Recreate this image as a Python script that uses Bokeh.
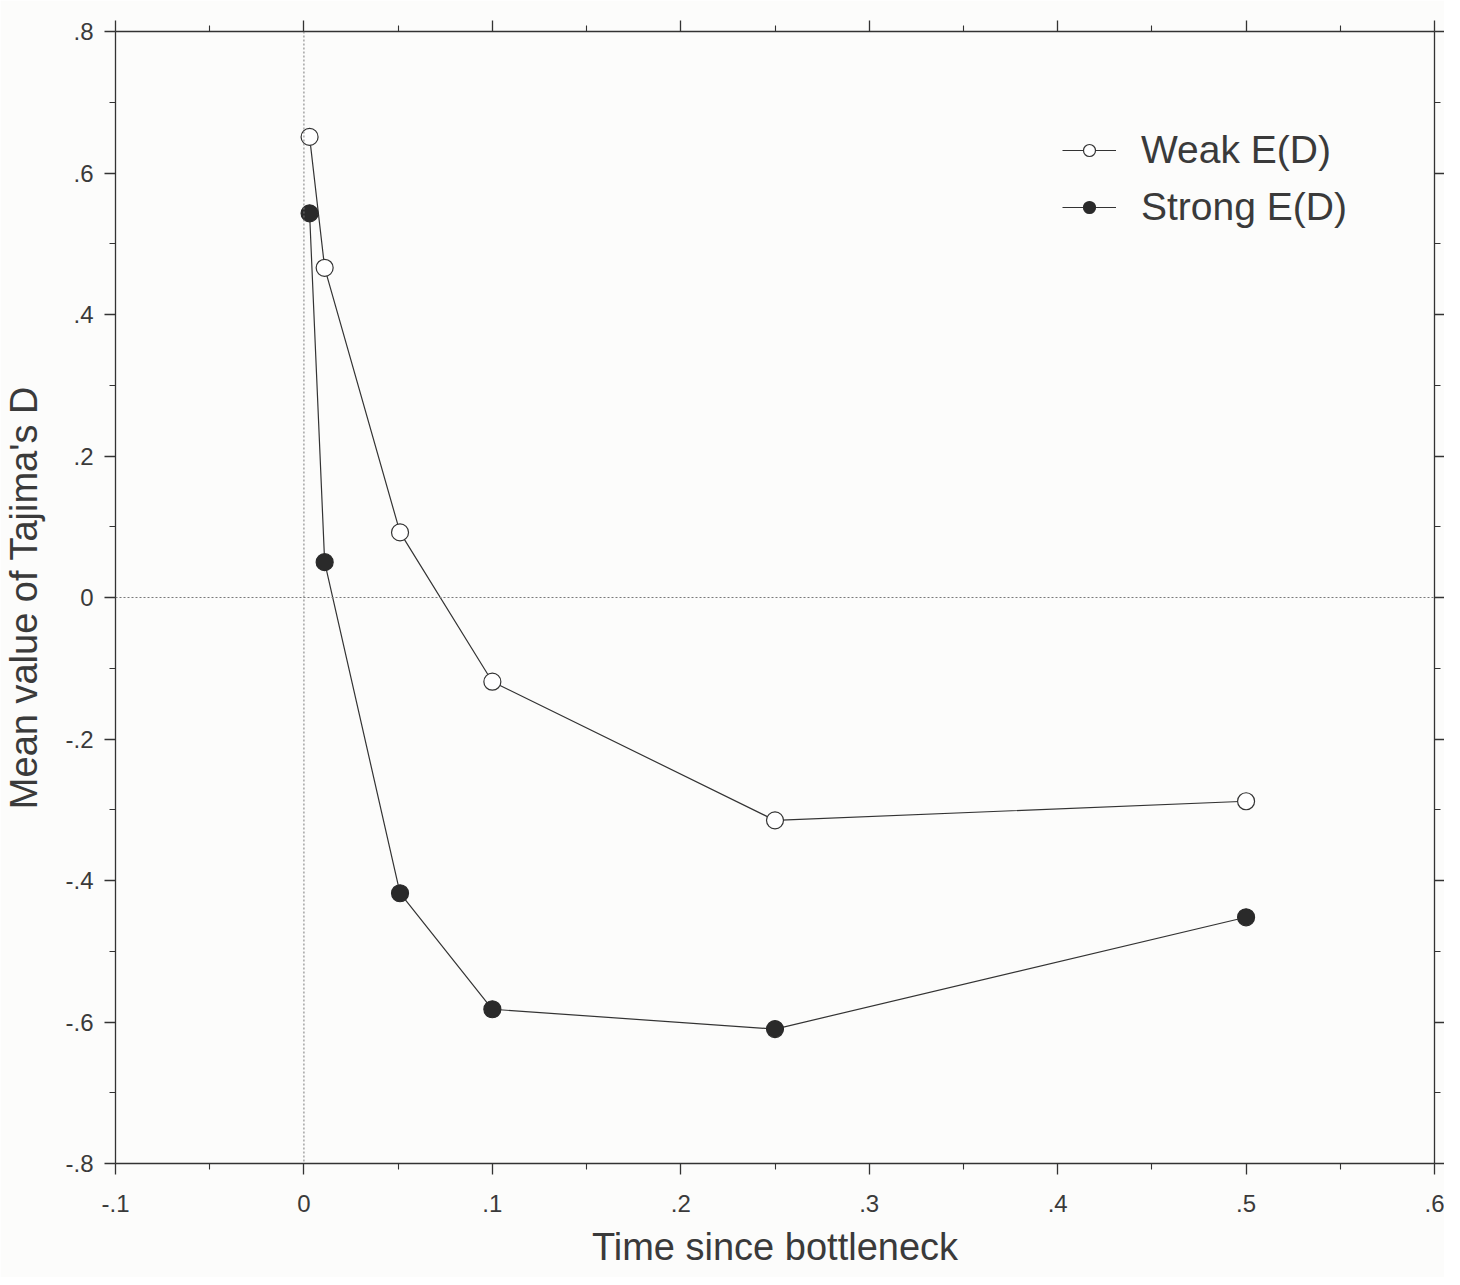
from bokeh.plotting import figure
from bokeh.models import (Range1d, LinearAxis, FixedTicker, CustomJSTickFormatter,
                          Span, Legend, LegendItem)
from bokeh.embed import file_html
from bokeh.resources import INLINE

# ---- data ----
time_since = [0.003, 0.011, 0.051, 0.1, 0.25, 0.5]
weak_ed = [0.651, 0.466, 0.092, -0.119, -0.315, -0.288]
strong_ed = [0.543, 0.050, -0.418, -0.582, -0.610, -0.452]

x_ticks = [-0.1, 0.0, 0.1, 0.2, 0.3, 0.4, 0.5, 0.6]
x_tick_labels = ["-.1", "0", ".1", ".2", ".3", ".4", ".5", ".6"]
x_minor = [-0.05, 0.05, 0.15, 0.25, 0.35, 0.45, 0.55]
y_ticks = [-0.8, -0.6, -0.4, -0.2, 0.0, 0.2, 0.4, 0.6, 0.8]
y_tick_labels = ["-.8", "-.6", "-.4", "-.2", "0", ".2", ".4", ".6", ".8"]
y_minor = [-0.7, -0.5, -0.3, -0.1, 0.1, 0.3, 0.5, 0.7]

x_title = "Time since bottleneck"
y_title = "Mean value of Tajima's D"
series_names = ["Weak E(D)", "Strong E(D)"]

FONT = "Liberation Sans"
INK = "#333333"
TEXT = "#3a3a3a"
BG = "#fcfcfb"

p = figure(width=1444, height=1277,
           x_range=Range1d(-0.1, 0.6), y_range=Range1d(-0.8, 0.8),
           output_backend="svg", toolbar_location=None,
           min_border_left=114, min_border_right=10,
           min_border_top=31, min_border_bottom=114)
p.background_fill_color = BG
p.border_fill_color = BG
p.outline_line_color = None
p.grid.visible = False

code = """
for (let i = 0; i < tvals.length; i++) {
  if (Math.abs(tvals[i] - tick) < 1e-9) { return tlabels[i]; }
}
return "";
"""
xfmt = CustomJSTickFormatter(args=dict(tvals=x_ticks, tlabels=x_tick_labels), code=code)
yfmt = CustomJSTickFormatter(args=dict(tvals=y_ticks, tlabels=y_tick_labels), code=code)
blank_fmt = CustomJSTickFormatter(code='return "";')


def style_axis(ax, ticks, minor, show_labels, fmt=None, tick_len=11):
    ax.ticker = FixedTicker(ticks=ticks, minor_ticks=minor)
    ax.axis_line_color = INK
    ax.axis_line_width = 1.3
    ax.major_tick_line_color = INK
    ax.major_tick_line_width = 1.3
    ax.minor_tick_line_color = INK
    ax.minor_tick_line_width = 1.1
    ax.major_tick_in = 0
    ax.major_tick_out = tick_len
    ax.minor_tick_in = 0
    ax.minor_tick_out = 6
    if show_labels:
        ax.formatter = fmt
        ax.major_label_text_font = FONT
        ax.major_label_text_font_size = "24px"
        ax.major_label_text_color = TEXT
        ax.axis_label_text_font = FONT
        ax.axis_label_text_font_size = "38px"
        ax.axis_label_text_font_style = "normal"
        ax.axis_label_text_color = TEXT
    else:
        ax.formatter = blank_fmt
        ax.major_label_text_font_size = "1px"
        ax.major_label_standoff = 0


xa = p.xaxis[0]
style_axis(xa, x_ticks, x_minor, True, xfmt)
xa.axis_label = x_title
xa.major_label_standoff = 20
xa.axis_label_standoff = 11

ya = p.yaxis[0]
style_axis(ya, y_ticks, y_minor, True, yfmt)
ya.axis_label = y_title
ya.major_label_standoff = 11
ya.axis_label_standoff = 17
ya.major_label_orientation = "horizontal"

top_ax = LinearAxis()
style_axis(top_ax, x_ticks, x_minor, False)
p.add_layout(top_ax, "above")
right_ax = LinearAxis()
style_axis(right_ax, y_ticks, y_minor, False, tick_len=10)
p.add_layout(right_ax, "right")

# reference lines at zero
p.add_layout(Span(location=0, dimension="height", line_color="#7a7a7a",
                  line_width=1, line_dash="2 2"))
p.add_layout(Span(location=0, dimension="width", line_color="#7a7a7a",
                  line_width=1, line_dash="2 2"))

l1 = p.line(time_since, weak_ed, line_color=INK, line_width=1.2)
s1 = p.scatter(time_since, weak_ed, size=17, marker="circle",
               fill_color="white", line_color=INK, line_width=1.2)
l2 = p.line(time_since, strong_ed, line_color=INK, line_width=1.2)
s2 = p.scatter(time_since, strong_ed, size=17, marker="circle",
               fill_color="#2a2a2a", line_color="#2a2a2a", line_width=1.2)

legend = Legend(items=[LegendItem(label=series_names[0], renderers=[l1, s1]),
                       LegendItem(label=series_names[1], renderers=[l2, s2])],
                location=(947, 934))
legend.border_line_alpha = 0
legend.background_fill_alpha = 0
legend.padding = 0
legend.margin = 0
legend.glyph_width = 54
legend.glyph_height = 30
legend.label_height = 44
legend.spacing = 13
legend.label_standoff = 25
legend.label_text_font = FONT
legend.label_text_font_size = "39px"
legend.label_text_color = TEXT
p.add_layout(legend, "center")

open("out.html", "w").write(file_html(p, INLINE))
